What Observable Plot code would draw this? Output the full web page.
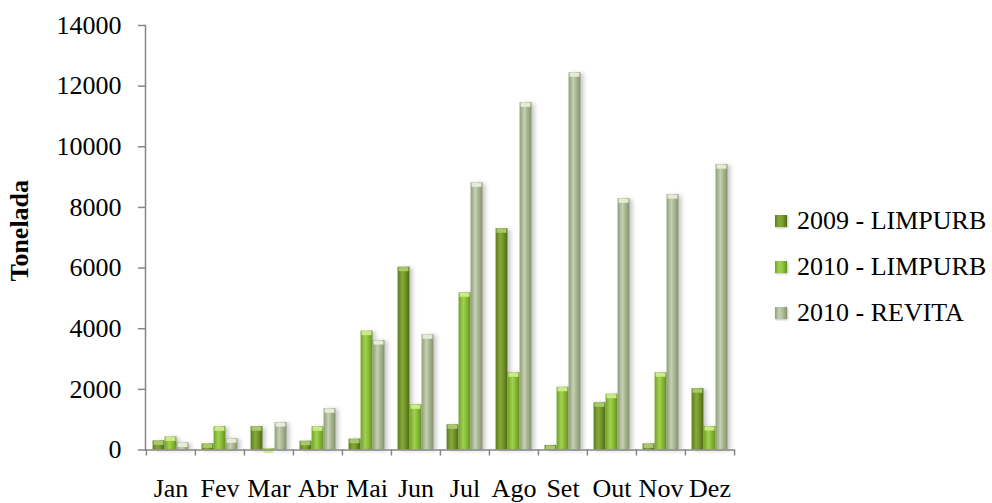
<!DOCTYPE html>
<html>
<head>
<meta charset="utf-8">
<script src="https://cdn.jsdelivr.net/npm/d3@7"></script>
<script src="https://cdn.jsdelivr.net/npm/@observablehq/plot@0.6"></script>
<style>
  html, body { margin: 0; padding: 0; background: #fff; }
  #wrap { position: relative; width: 992px; height: 503px; font-family: "Liberation Serif", "Times New Roman", serif; }
  #legend { position: absolute; left: 775px; top: 0; }
  .item { position: absolute; left: 0; display: flex; align-items: center; white-space: nowrap; font-size: 26px; color: #000; height: 30px; }
  .sw { width: 12px; height: 12px; margin-right: 10px; box-shadow: 1px 1px 2px rgba(0,0,0,0.25); }
</style>
</head>
<body>
<div id="wrap"><div id="legend"></div></div>
<script>
// Monthly tonnage collected
const months = ["Jan", "Fev", "Mar", "Abr", "Mai", "Jun", "Jul", "Ago", "Set", "Out", "Nov", "Dez"];
const limpurb2009 = [300, 200, 765, 290, 357, 6030, 830, 7295, 150, 1555, 200, 2020];
const limpurb2010 = [430, 765, 40, 765, 3920, 1490, 5185, 2545, 2070, 1840, 2545, 775];
const revita2010 = [230, 370, 905, 1360, 3610, 3800, 8810, 11450, 12440, 8285, 8420, 9410];
const seriesNames = ["2009 - LIMPURB", "2010 - LIMPURB", "2010 - REVITA"];
const yTicks = [0, 2000, 4000, 6000, 8000, 10000, 12000, 14000];

const seriesValues = [limpurb2009, limpurb2010, revita2010];
const rows = seriesNames.map((name, s) => months.map((m, i) => ({month: m, series: name, value: seriesValues[s][i]})));

const width = 992, height = 503;
const margin = {left: 145, right: 257, top: 25, bottom: 53.5};
const bw = (width - margin.left - margin.right) / months.length;
const barW = 12, outer = (bw - 3 * barW) / 2;

// cylinder-style fills and their lighter caps
const looks = [
  {id: "g2009", stops: ["#5d7d1d", "#86a93a", "#78992d", "#4d6a14"], cap: "#a9c86a"},
  {id: "g2010", stops: ["#72a326", "#a2d152", "#8dc23b", "#65931f"], cap: "#cde98a"},
  {id: "grev", stops: ["#8f9d78", "#c6d1b2", "#aebb98", "#85926d"], cap: "#e6ecd8"}
];

const marks = [];
rows.forEach((data, s) => {
  const insetLeft = outer + s * barW;
  const insetRight = bw - insetLeft - barW;
  marks.push(Plot.barY(data, {x: "month", y: "value", fill: `url(#${looks[s].id})`, insetLeft, insetRight, className: "bars"}));
  marks.push(Plot.tickY(data, {x: "month", y: "value", stroke: looks[s].cap, strokeWidth: 4, dy: 2, insetLeft: insetLeft + 1, insetRight: insetRight + 1}));
});

const chart = Plot.plot({
  width, height,
  marginLeft: margin.left, marginRight: margin.right, marginTop: margin.top, marginBottom: margin.bottom,
  style: {fontFamily: "'Liberation Serif', 'Times New Roman', serif", fontSize: "26px", color: "#000", background: "transparent", overflow: "visible"},
  x: {domain: months, padding: 0, axis: null, label: null},
  y: {domain: [0, 14000], axis: null, label: null},
  marks: [
    ...marks,
    Plot.ruleY([0], {stroke: "#868686", strokeWidth: 1.5}),
    Plot.frame({anchor: "left", stroke: "#868686", strokeWidth: 1.5}),
    Plot.axisY({ticks: yTicks, tickSize: 7, text: null, label: null, stroke: "#868686", strokeWidth: 1.5}),
    Plot.axisY({ticks: yTicks, tickSize: 0, tickPadding: 24, label: null, tickFormat: d => String(d), fill: "#000", fontSize: 26}),
    Plot.axisX({tickSize: 6, text: null, label: null, stroke: "#868686", strokeWidth: 1.5, dx: -bw / 2}),
    Plot.axisX({ticks: ["Dez"], tickSize: 6, text: null, label: null, stroke: "#868686", strokeWidth: 1.5, dx: bw / 2}),
    Plot.axisX({tickSize: 0, tickPadding: 29, label: null, fill: "#000", fontSize: 26}),
    Plot.text(["Tonelada"], {frameAnchor: "left", textAnchor: "middle", dx: -126, dy: -7, rotate: -90, fontWeight: "bold", fontSize: 26, fill: "#000"})
  ]
});

// gradient definitions used by the bar fills
const svg = d3.select(chart.tagName.toLowerCase() === "svg" ? chart : chart.querySelector("svg"));
const defs = svg.insert("defs", ":first-child");
looks.forEach(l => {
  const g = defs.append("linearGradient").attr("id", l.id).attr("x1", 0).attr("x2", 1).attr("y1", 0).attr("y2", 0);
  [0, 0.4, 0.6, 1].forEach((o, i) => g.append("stop").attr("offset", o).attr("stop-color", l.stops[i]));
});
svg.selectAll(".bars").style("filter", "drop-shadow(3px 1px 2px rgba(0,0,0,0.22))");

document.getElementById("wrap").prepend(chart);

// legend
const legend = document.getElementById("legend");
const legendY = [221, 267, 313];
seriesNames.forEach((name, s) => {
  const item = document.createElement("div");
  item.className = "item";
  item.style.top = (legendY[s] - 15) + "px";
  const sw = document.createElement("span");
  sw.className = "sw";
  sw.style.background = `linear-gradient(90deg, ${looks[s].stops.join(", ")})`;
  item.appendChild(sw);
  item.appendChild(document.createTextNode(name));
  legend.appendChild(item);
});
</script>
</body>
</html>
